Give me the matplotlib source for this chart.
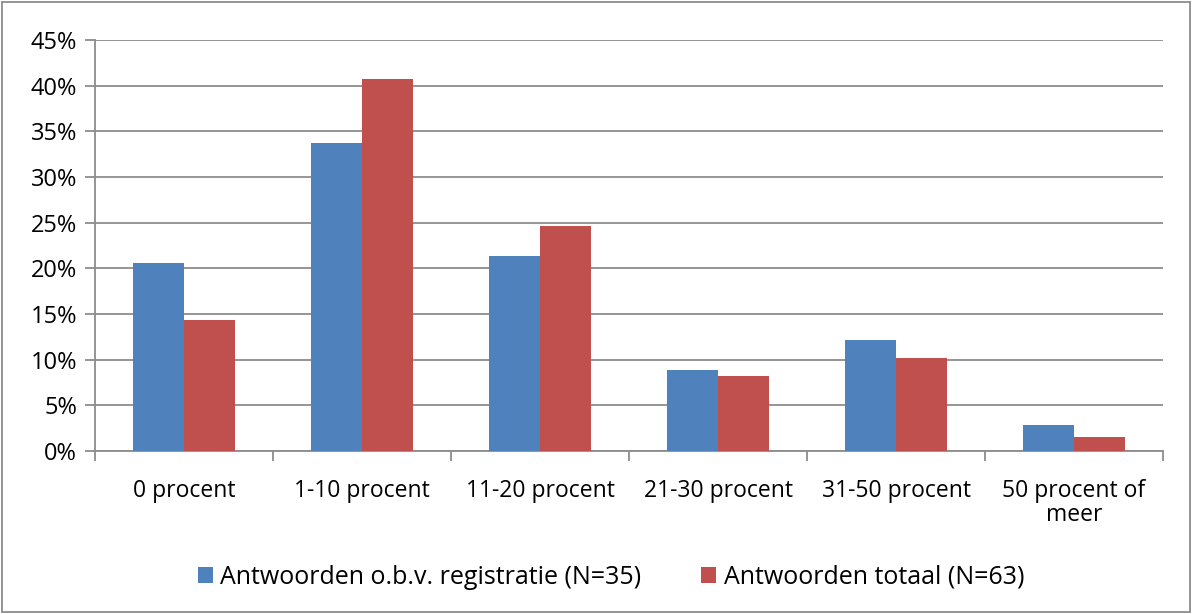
import matplotlib.pyplot as plt
import numpy as np
from matplotlib.patches import Rectangle

categories = ['0 procent', '1-10 procent', '11-20 procent', '21-30 procent',
              '31-50 procent', '50 procent of\nmeer']
registratie = [20.6, 33.7, 21.4, 8.9, 12.2, 2.8]
totaal = [14.3, 40.7, 24.6, 8.2, 10.2, 1.5]
yticks = np.arange(0, 46, 5)

plt.rcParams['font.family'] = ['Open Sans', 'DejaVu Sans']

fig = plt.figure(figsize=(11.92, 6.14), dpi=100)
ax = fig.add_axes([95/1192, 1 - 451/614, 1068/1192, 411/614])

x = np.arange(len(categories))
w = 0.287
ax.bar(x - w/2, registratie, w, color='#4f81bd', label='Antwoorden o.b.v. registratie (N=35)', zorder=3)
ax.bar(x + w/2, totaal, w, color='#c0504d', label='Antwoorden totaal (N=63)', zorder=3)

ax.set_xlim(-0.5, len(categories) - 0.5)
ax.set_ylim(0, 45)
ax.set_yticks(yticks)
ax.set_yticklabels([f'{v}%' for v in yticks], fontsize=17)
ax.yaxis.grid(True, color='#8c8c8c', linewidth=1.3, zorder=0)

ax.set_xticks(x)
ax.set_xticklabels(categories, fontsize=16.5, linespacing=1.0)
ax.tick_params(axis='x', length=0, pad=20)
ax.set_xticks(np.arange(-0.5, len(categories)), minor=True)
ax.tick_params(axis='x', which='minor', length=7, width=1.3, color='#8c8c8c')
ax.tick_params(axis='y', length=7, width=1.3, color='#8c8c8c', pad=6)

for s in ['top', 'right']:
    ax.spines[s].set_visible(False)
for s in ['left', 'bottom']:
    ax.spines[s].set_color('#8c8c8c')
    ax.spines[s].set_linewidth(1.3)

leg = fig.legend(loc='center', bbox_to_anchor=(611/1192, 1 - 577/614), ncol=2, frameon=False,
                 fontsize=18, handlelength=0.6, handleheight=0.6, handletextpad=0.3,
                 columnspacing=2.4)

fig.patches.append(Rectangle((2/1192, 2/614), 1188/1192, 610/614, transform=fig.transFigure,
                             fill=False, edgecolor='#8c8c8c', linewidth=1.3))

fig.savefig('out.png', dpi=100)
